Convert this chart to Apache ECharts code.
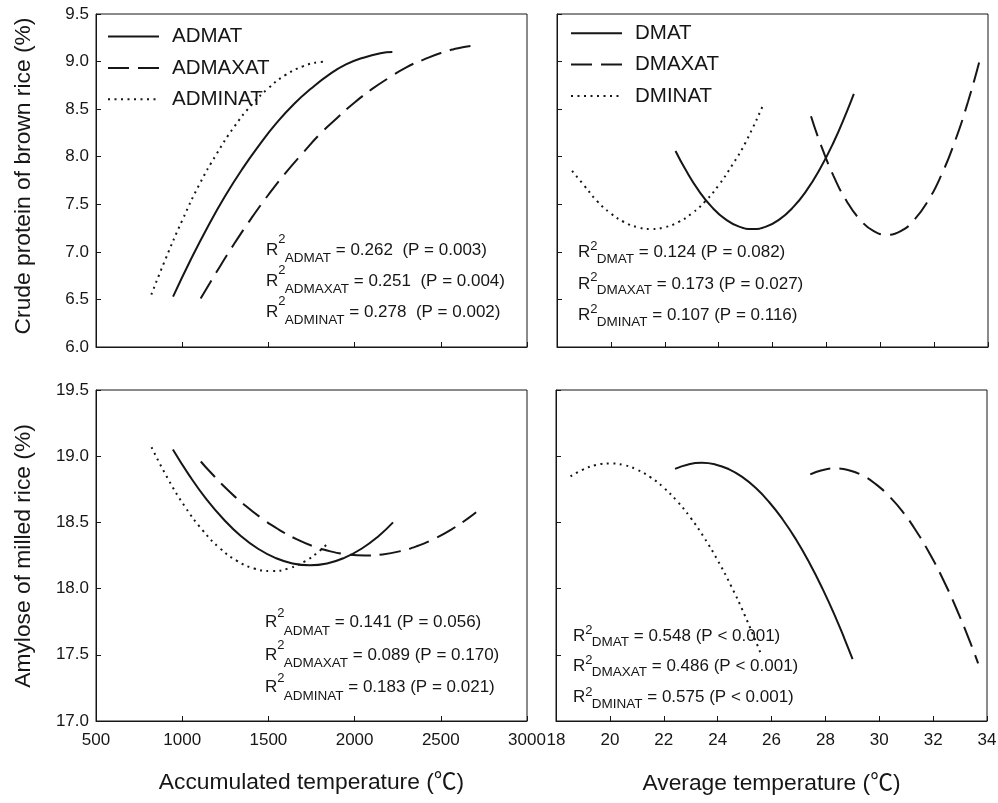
<!DOCTYPE html>
<html>
<head>
<meta charset="utf-8">
<script src="https://cdn.jsdelivr.net/npm/echarts@6/dist/echarts.min.js"></script>
<style>
  html, body { margin: 0; padding: 0; background: #fff; }
  #chart { width: 998px; height: 803px; }
</style>
</head>
<body>
<div id="chart"></div>
<script>
// ---------- data: quadratic response curves, read as [temperature, value] ----------

// Crude protein of brown rice (%) vs accumulated temperature (°C)
const cpADMAT   = [[947,6.53],[1050,6.92],[1150,7.27],[1250,7.59],[1350,7.875],[1450,8.13],[1550,8.36],[1650,8.557],[1750,8.72],[1850,8.86],[1950,8.97],[2050,9.04],[2150,9.087],[2219,9.10]];
const cpADMAXAT = [[1107,6.51],[1200,6.79],[1300,7.08],[1400,7.35],[1500,7.60],[1600,7.83],[1700,8.04],[1800,8.24],[1900,8.41],[2000,8.57],[2100,8.71],[2200,8.83],[2300,8.94],[2400,9.02],[2500,9.09],[2600,9.14],[2702,9.17]];
const cpADMINAT = [[821,6.55],[900,6.91],[1000,7.33],[1100,7.71],[1200,8.03],[1300,8.31],[1400,8.54],[1500,8.72],[1600,8.86],[1700,8.95],[1800,8.995],[1842,9.00]];

// Crude protein of brown rice (%) vs average temperature (°C)
const cpDMAT   = [[22.40,8.06],[22.76,7.87],[23.26,7.643],[23.76,7.467],[24.26,7.341],[24.76,7.265],[25.26,7.24],[25.76,7.265],[26.26,7.341],[26.76,7.467],[27.26,7.643],[27.76,7.87],[28.26,8.147],[28.76,8.475],[29.02,8.66]];
const cpDMAXAT = [[27.43,8.425],[27.76,8.152],[28.26,7.802],[28.76,7.53],[29.26,7.336],[29.76,7.219],[30.26,7.18],[30.76,7.219],[31.26,7.336],[31.76,7.53],[32.26,7.802],[32.76,8.152],[33.26,8.58],[33.67,8.99]];
const cpDMINAT = [[18.56,7.85],[19.0,7.70],[19.5,7.53],[20.0,7.403],[20.5,7.312],[21.0,7.258],[21.5,7.24],[22.0,7.258],[22.5,7.312],[23.0,7.403],[23.5,7.53],[24.0,7.70],[24.5,7.91],[25.0,8.15],[25.63,8.53]];

// Amylose of milled rice (%) vs accumulated temperature (°C)
const amADMAT   = [[946,19.05],[1040,18.857],[1140,18.676],[1240,18.524],[1340,18.398],[1440,18.301],[1540,18.232],[1640,18.19],[1740,18.176],[1840,18.19],[1940,18.232],[2040,18.301],[2140,18.398],[2223,18.50]];
const amADMAXAT = [[1108,18.96],[1160,18.884],[1260,18.751],[1360,18.634],[1460,18.532],[1560,18.446],[1660,18.375],[1760,18.32],[1860,18.281],[1960,18.258],[2060,18.25],[2160,18.258],[2260,18.281],[2360,18.32],[2460,18.375],[2560,18.446],[2660,18.532],[2705,18.576]];
const amADMINAT = [[822,19.068],[917,18.83],[1017,18.617],[1117,18.443],[1217,18.307],[1317,18.21],[1417,18.152],[1517,18.133],[1617,18.152],[1717,18.21],[1780,18.267],[1842,18.338]];

// Amylose of milled rice (%) vs average temperature (°C)
const amDMAT   = [[22.42,18.904],[22.91,18.938],[23.41,18.95],[23.91,18.938],[24.41,18.903],[24.91,18.844],[25.41,18.761],[25.91,18.654],[26.41,18.524],[26.91,18.371],[27.41,18.193],[27.91,17.992],[28.41,17.768],[28.71,17.621],[29.01,17.467]];
const amDMAXAT = [[27.44,18.862],[27.87,18.894],[28.37,18.907],[28.87,18.894],[29.37,18.855],[29.87,18.789],[30.37,18.697],[30.87,18.58],[31.37,18.435],[31.87,18.265],[32.37,18.069],[32.87,17.846],[33.37,17.597],[33.67,17.435]];
const amDMINAT = [[18.54,18.848],[19.0,18.899],[19.5,18.934],[20.0,18.945],[20.5,18.934],[21.0,18.899],[21.5,18.842],[22.0,18.762],[22.5,18.659],[23.0,18.534],[23.5,18.385],[24.0,18.214],[24.5,18.020],[25.0,17.802],[25.64,17.49]];

// regression statistics: [subscript, R², P-value text]
const statsCpAcc = [['ADMAT','0.262','= 0.003'],['ADMAXAT','0.251','= 0.004'],['ADMINAT','0.278','= 0.002']];
const statsCpAvg = [['DMAT','0.124','= 0.082'],['DMAXAT','0.173','= 0.027'],['DMINAT','0.107','= 0.116']];
const statsAmAcc = [['ADMAT','0.141','= 0.056'],['ADMAXAT','0.089','= 0.170'],['ADMINAT','0.183','= 0.021']];
const statsAmAvg = [['DMAT','0.548','< 0.001'],['DMAXAT','0.486','< 0.001'],['DMINAT','0.575','< 0.001']];

// ---------- styling ----------
const FONT = "'Liberation Sans', Arial, Helvetica, sans-serif";
const TITLE_FONT = "'Liberation Sans', Arial, 'Noto Sans CJK SC', sans-serif";
const INK = '#161616';
const DASHED = [21, 9];
const DOTTED = [2, 4.5];

const chart = echarts.init(document.getElementById('chart'), null, { renderer: 'canvas' });

const grids = [
  { left: 96,  top: 14,  width: 431, height: 333 },
  { left: 557, top: 14,  width: 431, height: 333 },
  { left: 96,  top: 390, width: 431, height: 331 },
  { left: 556, top: 390, width: 431, height: 331 }
].map(g => Object.assign(g, { show: true, borderColor: INK, borderWidth: 1, outerBoundsMode: 'none', containLabel: false }));

function xAxis(gi, min, max, interval, labels) {
  return {
    type: 'value', gridIndex: gi, min, max, interval,
    axisLine: { show: true, onZero: false, lineStyle: { color: INK, width: 1 } },
    axisTick: { show: true, inside: true, length: 5, lineStyle: { color: INK, width: 1 } },
    axisLabel: { show: labels, color: INK, fontSize: 17, fontFamily: FONT, margin: 11, formatter: v => String(v) },
    splitLine: { show: false }
  };
}
function yAxis(gi, min, max, labels) {
  return {
    type: 'value', gridIndex: gi, min, max, interval: 0.5,
    axisLine: { show: true, onZero: false, lineStyle: { color: INK, width: 1 } },
    axisTick: { show: true, inside: true, length: 5, lineStyle: { color: INK, width: 1 } },
    axisLabel: { show: labels, color: INK, fontSize: 17, fontFamily: FONT, margin: 7, formatter: v => v.toFixed(1) },
    splitLine: { show: false }
  };
}

function line(name, gi, data, dash) {
  return {
    type: 'line', name, xAxisIndex: gi, yAxisIndex: gi, data,
    symbol: 'none', showSymbol: false, smooth: true, z: 4,
    lineStyle: { color: INK, width: 2, type: dash },
    itemStyle: { color: INK },
    emphasis: { disabled: true }
  };
}

// ---------- R² annotations (R, superscript 2, subscript, remainder) ----------
const measure = document.createElement('canvas').getContext('2d');
function textWidth(t, size) { measure.font = size + 'px ' + FONT; return measure.measureText(t).width; }
function put(t, x, baseline, size) {
  return {
    type: 'text', silent: true, z: 2, x, y: baseline - 0.3465 * size,
    style: { text: t, font: size + 'px ' + FONT, fill: INK, align: 'left', verticalAlign: 'middle', textAlign: 'left', textVerticalAlign: 'middle' }
  };
}
function statBlock(stats, x, baselines, supRise, subDrop, gap) {
  const MAIN = 17, SUP = 13, SUB = 13.5;
  const els = [];
  stats.forEach((s, i) => {
    const b = baselines[i];
    let cx = x;
    els.push(put('R', cx, b, MAIN)); cx += textWidth('R', MAIN);
    els.push(put('2', cx, b - supRise, SUP)); cx += textWidth('2', SUP) * 0.9;
    els.push(put(s[0], cx, b + subDrop, SUB)); cx += textWidth(s[0], SUB);
    els.push(put(' = ' + s[1] + gap + '(P ' + s[2] + ')', cx, b, MAIN));
  });
  return els;
}

function title(t, x, y, rotated) {
  return {
    type: 'text', silent: true, x, y, rotation: rotated ? Math.PI / 2 : 0,
    style: { text: t, font: '22.8px ' + TITLE_FONT, fill: INK, align: 'center', verticalAlign: 'middle', textAlign: 'center', textVerticalAlign: 'middle' }
  };
}

const legendBase = {
  orient: 'vertical', itemWidth: 51, itemHeight: 20, itemGap: 10.4, padding: 0,
  selectedMode: false,
  itemStyle: { color: 'transparent', borderColor: 'transparent', borderWidth: 0, opacity: 0 },
  textStyle: { color: INK, fontSize: 20.5, fontFamily: FONT, lineHeight: 20, padding: [0, 0, 0, 8] }
};

chart.setOption({
  animation: false,
  backgroundColor: '#fff',
  grid: grids,
  xAxis: [
    xAxis(0, 500, 3000, 500, false),
    xAxis(1, 18, 34, 2, false),
    xAxis(2, 500, 3000, 500, true),
    xAxis(3, 18, 34, 2, true)
  ],
  yAxis: [
    yAxis(0, 6, 9.5, true),
    yAxis(1, 6, 9.5, false),
    yAxis(2, 17, 19.5, true),
    yAxis(3, 17, 19.5, false)
  ],
  legend: [
    Object.assign({}, legendBase, { data: ['ADMAT', 'ADMAXAT', 'ADMINAT'], left: 107, top: 26 }),
    Object.assign({}, legendBase, { data: ['DMAT', 'DMAXAT', 'DMINAT'], left: 570, top: 22.7 })
  ],
  series: [
    line('ADMAT', 0, cpADMAT, 'solid'),
    line('ADMAXAT', 0, cpADMAXAT, DASHED),
    line('ADMINAT', 0, cpADMINAT, DOTTED),
    line('DMAT', 1, cpDMAT, 'solid'),
    line('DMAXAT', 1, cpDMAXAT, DASHED),
    line('DMINAT', 1, cpDMINAT, DOTTED),
    line('ADMAT', 2, amADMAT, 'solid'),
    line('ADMAXAT', 2, amADMAXAT, DASHED),
    line('ADMINAT', 2, amADMINAT, DOTTED),
    line('DMAT', 3, amDMAT, 'solid'),
    line('DMAXAT', 3, amDMAXAT, DASHED),
    line('DMINAT', 3, amDMINAT, DOTTED)
  ],
  graphic: [
    title('Crude protein of brown rice (%)', 24, 176, true),
    title('Amylose of milled rice (%)', 24, 556, true),
    title('Accumulated temperature (\u2103)', 311.5, 783, false),
    title('Average temperature (\u2103)', 771.5, 784, false)
  ]
    .concat(statBlock(statsCpAcc, 266, [256, 287, 318], 12, 7, '  '))
    .concat(statBlock(statsCpAvg, 578, [258.5, 290, 321.5], 8, 5, ' '))
    .concat(statBlock(statsAmAcc, 265, [628.5, 661, 693.5], 11, 7, ' '))
    .concat(statBlock(statsAmAvg, 573, [642, 672, 703.5], 7, 5, ' '))
});
</script>
</body>
</html>
